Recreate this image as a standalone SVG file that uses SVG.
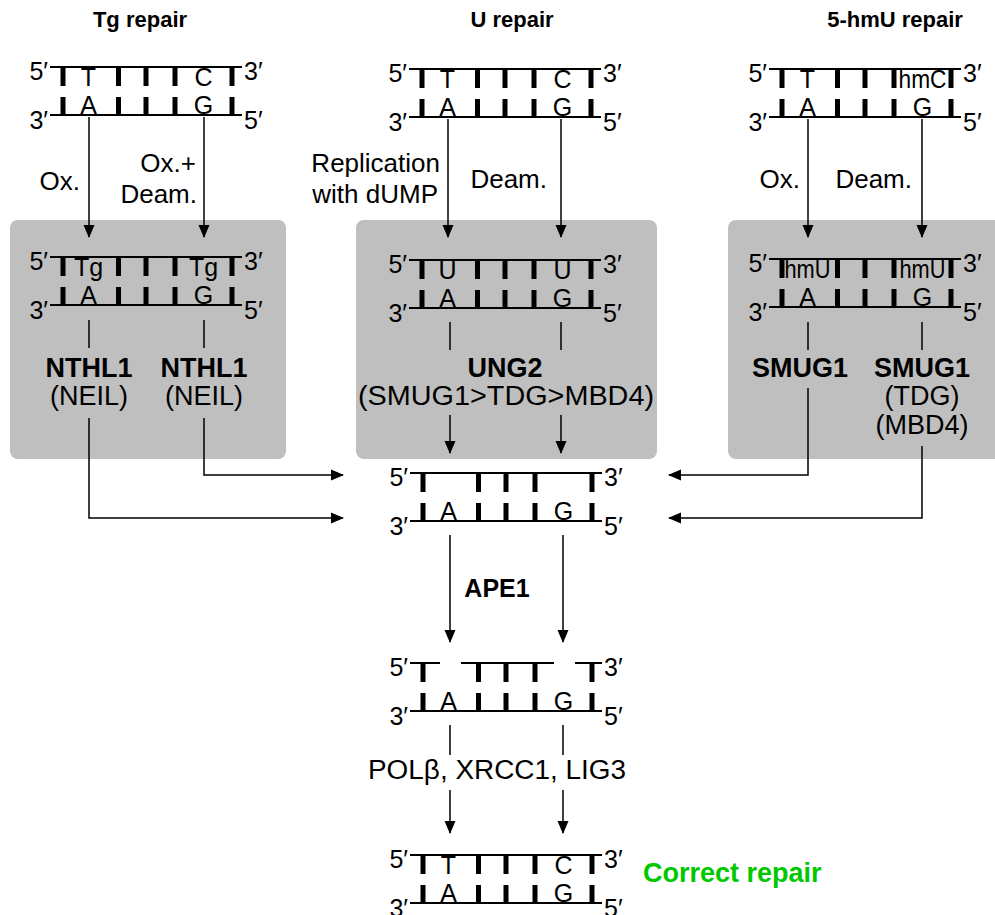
<svg xmlns="http://www.w3.org/2000/svg" xmlns:xlink="http://www.w3.org/1999/xlink" width="995" height="915" viewBox="0 0 995 915">
<style>
  text { font-family: "Liberation Sans", Arial, sans-serif; fill: #000; }
  .st { stroke: #000; stroke-width: 2; fill: none; }
  .bar { stroke: #000; stroke-width: 5; }
  .nt { font-size: 25px; text-anchor: middle; }
  .pr { font-size: 25px; }
  .end { text-anchor: end; }
  .mid { text-anchor: middle; }
  .lbl { font-size: 27px; }
  .stp { font-size: 26px; text-anchor: end; }
  .hd { font-size: 22px; font-weight: bold; text-anchor: middle; }
  .bd { font-weight: bold; }
  .box { fill: #bfbfbf; }
  .cn { stroke: #000; stroke-width: 1.5; fill: none; }
  .ar { marker-end: url(#ah); }
</style>
<defs>
  <marker id="ah" markerWidth="13" markerHeight="12" refX="12" refY="6" orient="auto" markerUnits="userSpaceOnUse">
    <path d="M0,0.5 L13,6 L0,11.5 z" fill="#000"/>
  </marker>
  <g id="strandB">
    <line class="st" x1="0" y1="48" x2="192" y2="48"/>
    <line class="bar" x1="13" y1="30" x2="13" y2="48"/>
    <line class="bar" x1="68.5" y1="30" x2="68.5" y2="48"/>
    <line class="bar" x1="96" y1="30" x2="96" y2="48"/>
    <line class="bar" x1="125" y1="30" x2="125" y2="48"/>
    <line class="bar" x1="182" y1="30" x2="182" y2="48"/>
    <text class="pr end" x="-2" y="13">5′</text>
    <text class="pr" x="194" y="13">3′</text>
    <text class="pr end" x="-2" y="62">3′</text>
    <text class="pr" x="194" y="62">5′</text>
  </g>
  <g id="strandT">
    <line class="st" x1="0" y1="0" x2="192" y2="0"/>
    <line class="bar" x1="13" y1="0" x2="13" y2="19"/>
    <line class="bar" x1="68.5" y1="0" x2="68.5" y2="19"/>
    <line class="bar" x1="96" y1="0" x2="96" y2="19"/>
    <line class="bar" x1="125" y1="0" x2="125" y2="19"/>
    <line class="bar" x1="182" y1="0" x2="182" y2="19"/>
  </g>
</defs>

<rect width="995" height="915" fill="#fff"/>

<g id="headers">
  <text class="hd" x="140" y="27">Tg repair</text>
  <text class="hd" x="512" y="27">U repair</text>
  <text class="hd" x="895" y="27">5-hmU repair</text>
</g>

<g id="boxes">
  <rect class="box" x="10" y="220" width="276" height="239" rx="8"/>
  <rect class="box" x="356" y="220" width="301" height="239" rx="8"/>
  <rect class="box" x="728" y="220" width="290" height="239" rx="8"/>
</g>

<g id="dna-tg-top" transform="translate(50,67)">
  <use xlink:href="#strandT"/><use xlink:href="#strandB"/>
  <text class="nt" x="38.5" y="19">T</text><text class="nt" x="153.5" y="19">C</text>
  <text class="nt" x="38.5" y="47">A</text><text class="nt" x="153.5" y="47">G</text>
</g>
<g id="dna-u-top" transform="translate(409,69)">
  <use xlink:href="#strandT"/><use xlink:href="#strandB"/>
  <text class="nt" x="38.5" y="19">T</text><text class="nt" x="153.5" y="19">C</text>
  <text class="nt" x="38.5" y="47">A</text><text class="nt" x="153.5" y="47">G</text>
</g>
<g id="dna-hmu-top" transform="translate(769,69)">
  <use xlink:href="#strandT"/><use xlink:href="#strandB"/>
  <text class="nt" x="38.5" y="19">T</text>
  <text class="nt" x="153.5" y="19" textLength="48" lengthAdjust="spacingAndGlyphs">hmC</text>
  <text class="nt" x="38.5" y="47">A</text><text class="nt" x="153.5" y="47">G</text>
</g>

<g id="dna-tg" transform="translate(50,257)">
  <use xlink:href="#strandT"/><use xlink:href="#strandB"/>
  <text class="nt" x="38.5" y="19">Tg</text><text class="nt" x="153.5" y="19">Tg</text>
  <text class="nt" x="38.5" y="47">A</text><text class="nt" x="153.5" y="47">G</text>
</g>
<g id="dna-u" transform="translate(409,260)">
  <use xlink:href="#strandT"/><use xlink:href="#strandB"/>
  <text class="nt" x="38.5" y="19">U</text><text class="nt" x="153.5" y="19">U</text>
  <text class="nt" x="38.5" y="47">A</text><text class="nt" x="153.5" y="47">G</text>
</g>
<g id="dna-hmu" transform="translate(769,259)">
  <use xlink:href="#strandT"/><use xlink:href="#strandB"/>
  <text class="nt" x="38.5" y="19" textLength="46" lengthAdjust="spacingAndGlyphs">hmU</text>
  <text class="nt" x="153.5" y="19" textLength="46" lengthAdjust="spacingAndGlyphs">hmU</text>
  <text class="nt" x="38.5" y="47">A</text><text class="nt" x="153.5" y="47">G</text>
</g>

<g id="dna-ap" transform="translate(410,473)">
  <use xlink:href="#strandT"/><use xlink:href="#strandB"/>
  <text class="nt" x="38.5" y="47">A</text><text class="nt" x="153.5" y="47">G</text>
</g>

<g id="dna-gap" transform="translate(410,663)">
  <line class="st" x1="0" y1="0" x2="30" y2="0"/>
  <line class="st" x1="51" y1="0" x2="144" y2="0"/>
  <line class="st" x1="165" y1="0" x2="192" y2="0"/>
  <line class="bar" x1="13" y1="0" x2="13" y2="19"/>
  <line class="bar" x1="68.5" y1="0" x2="68.5" y2="19"/>
  <line class="bar" x1="96" y1="0" x2="96" y2="19"/>
  <line class="bar" x1="125" y1="0" x2="125" y2="19"/>
  <line class="bar" x1="182" y1="0" x2="182" y2="19"/>
  <use xlink:href="#strandB"/>
  <text class="nt" x="38.5" y="47">A</text><text class="nt" x="153.5" y="47">G</text>
</g>

<g id="dna-final" transform="translate(410,855)">
  <use xlink:href="#strandT"/><use xlink:href="#strandB"/>
  <text class="nt" x="38.5" y="19">T</text><text class="nt" x="153.5" y="19">C</text>
  <text class="nt" x="38.5" y="47">A</text><text class="nt" x="153.5" y="47">G</text>
</g>

<g id="step-labels">
  <text class="stp" x="80" y="190">Ox.</text>
  <text class="stp" x="196" y="172">Ox.+</text>
  <text class="stp" x="197" y="203">Deam.</text>
  <text class="stp" x="440" y="172">Replication</text>
  <text class="stp" x="438" y="203">with dUMP</text>
  <text class="stp" x="547" y="188">Deam.</text>
  <text class="stp" x="800" y="188">Ox.</text>
  <text class="stp" x="912" y="188">Deam.</text>
</g>

<g id="enzymes">
  <text class="lbl bd mid" x="89" y="377">NTHL1</text>
  <text class="lbl mid" x="89" y="405">(NEIL)</text>
  <text class="lbl bd mid" x="204" y="377">NTHL1</text>
  <text class="lbl mid" x="204" y="405">(NEIL)</text>
  <text class="lbl bd mid" x="505" y="377">UNG2</text>
  <text class="lbl mid" x="506" y="405" textLength="296" lengthAdjust="spacingAndGlyphs">(SMUG1&gt;TDG&gt;MBD4)</text>
  <text class="lbl bd mid" x="800" y="377">SMUG1</text>
  <text class="lbl bd mid" x="922" y="377">SMUG1</text>
  <text class="lbl mid" x="922" y="405">(TDG)</text>
  <text class="lbl mid" x="922" y="434">(MBD4)</text>
  <text class="bd mid" x="497" y="597" style="font-size:25px">APE1</text>
  <text class="lbl mid" x="497" y="779" textLength="258" lengthAdjust="spacingAndGlyphs">POLβ, XRCC1, LIG3</text>
  <text class="lbl bd" x="643" y="882" style="fill:#00c800">Correct repair</text>
</g>

<g id="connectors">
  <path class="cn ar" d="M89,117 V237"/>
  <path class="cn ar" d="M204,117 V237"/>
  <path class="cn ar" d="M448,119 V237"/>
  <path class="cn ar" d="M561,119 V237"/>
  <path class="cn ar" d="M808,119 V237"/>
  <path class="cn ar" d="M922,119 V237"/>
  <path class="cn" d="M89,320 V348"/>
  <path class="cn" d="M204,320 V348"/>
  <path class="cn" d="M450,322 V350"/>
  <path class="cn" d="M561,322 V350"/>
  <path class="cn" d="M808,322 V350"/>
  <path class="cn" d="M922,322 V350"/>
  <path class="cn ar" d="M89,418 V518 H343"/>
  <path class="cn ar" d="M204,418 V475 H343"/>
  <path class="cn ar" d="M450,415 V453"/>
  <path class="cn ar" d="M561,415 V453"/>
  <path class="cn ar" d="M808,388 V475 H669"/>
  <path class="cn ar" d="M922,446 V518 H669"/>
  <path class="cn ar" d="M450,535 V642"/>
  <path class="cn ar" d="M563,535 V642"/>
  <path class="cn" d="M450,725 V755"/>
  <path class="cn" d="M563,725 V755"/>
  <path class="cn ar" d="M450,790 V833"/>
  <path class="cn ar" d="M563,790 V833"/>
</g>
</svg>
